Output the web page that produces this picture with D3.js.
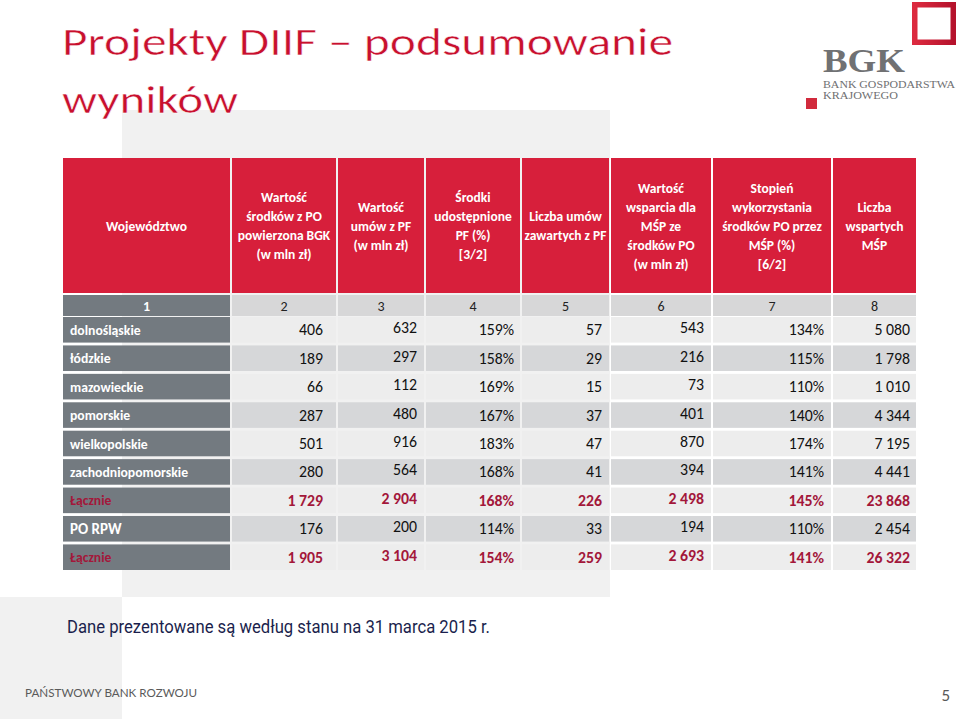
<!DOCTYPE html>
<html><head><meta charset="utf-8">
<script src="https://cdn.jsdelivr.net/npm/d3@7"></script>
<style>body{margin:0;background:#fff}svg{display:block}</style>
</head><body><svg id="c" width="959" height="719"></svg>
<script>
// ---- data ----
const regions = ["dolnośląskie","łódzkie","mazowieckie","pomorskie","wielkopolskie","zachodniopomorskie","Łącznie","PO RPW","Łącznie"];
const isTotal = [false,false,false,false,false,false,true,false,true];
const wartoscPO = [406,189,66,287,501,280,1729,176,1905];
const wartoscUmowPF = [632,297,112,480,916,564,2904,200,3104];
const srodkiUdostepnione = [159,158,169,167,183,168,168,114,154];
const liczbaUmow = [57,29,15,37,47,41,226,33,259];
const wartoscWsparcia = [543,216,73,401,870,394,2498,194,2693];
const stopienWykorzystania = [134,115,110,140,174,141,145,110,141];
const liczbaMSP = [5080,1798,1010,4344,7195,4441,23868,2454,26322];
const headers = [
  ["Województwo"],
  ["Wartość","środków z PO","powierzona BGK","(w mln zł)"],
  ["Wartość","umów z PF","(w mln zł)"],
  ["Środki","udostępnione","PF (%)","[3/2]"],
  ["Liczba umów","zawartych z PF"],
  ["Wartość","wsparcia dla","MŚP ze","środków PO","(w mln zł)"],
  ["Stopień","wykorzystania","środków PO przez","MŚP (%)","[6/2]"],
  ["Liczba","wspartych","MŚP"]
];
const colNumbers = ["1","2","3","4","5","6","7","8"];
const title = ["Projekty DIIF – podsumowanie","wyników"];
const note = "Dane prezentowane są według stanu na 31 marca 2015 r.";

// ---- layout / style ----
const RED = "#d71f3b", GREY = "#737a80", LIGHT = "#ededed", DARK = "#d6d7d9", TOTAL = "#a3173a";
const FONT = "Calibri, Carlito, Lato, sans-serif";
const svg = d3.select("#c");
const loc = d3.formatLocale({decimal:",", thousands:"\u00a0", grouping:[3], currency:["",""]});
const num = loc.format(",d");
const pct = d => d + "%";

// background blocks
svg.append("rect").attr("x",122).attr("y",110).attr("width",488).attr("height",487).attr("fill","#f1f1f1");
svg.append("rect").attr("x",0).attr("y",597).attr("width",122).attr("height",122).attr("fill","#f1f1f1");

// title
svg.selectAll("text.title").data(title).enter().append("text")
  .attr("class","title")
  .attr("x",62).attr("y",(d,i)=>55+i*58)
  .attr("font-family",FONT).attr("font-size",39).attr("font-weight",300).attr("fill","#c8102e")
  .attr("stroke","#fff").attr("stroke-width",0.45)
  .attr("textLength",(d,i)=>i===0?611:176).attr("lengthAdjust","spacingAndGlyphs")
  .text(d=>d);

// logo
const logo = svg.append("g");
const grad = svg.append("defs").append("linearGradient").attr("id","lg").attr("x1","0").attr("x2","1");
grad.append("stop").attr("offset","0").attr("stop-color","#dc2a3f");
grad.append("stop").attr("offset","1").attr("stop-color","#b5122c");
logo.append("rect").attr("x",914.75).attr("y",4.75).attr("width",38.5).attr("height",37.5)
  .attr("fill","none").attr("stroke","url(#lg)").attr("stroke-width",5.5);
logo.append("rect").attr("x",806).attr("y",98).attr("width",11).attr("height",11).attr("fill","#d12a3c");
logo.append("text").attr("x",823).attr("y",72).attr("font-family","Liberation Serif, serif").attr("font-weight","bold")
  .attr("font-size",34).attr("fill","#707173").attr("textLength",82).attr("lengthAdjust","spacingAndGlyphs").text("BGK");
logo.append("text").attr("x",823).attr("y",88).attr("font-family","Liberation Serif, serif")
  .attr("font-size",10.5).attr("fill","#6f7072").attr("textLength",132).attr("lengthAdjust","spacingAndGlyphs").text("BANK GOSPODARSTWA");
logo.append("text").attr("x",823).attr("y",98.5).attr("font-family","Liberation Serif, serif")
  .attr("font-size",10.5).attr("fill","#6f7072").attr("textLength",75).attr("lengthAdjust","spacingAndGlyphs").text("KRAJOWEGO");

// columns & rows
const edges = [63,232,338,426,522,611,713,833,918];
const x0 = d3.scaleOrdinal().domain(d3.range(9)).range(edges);
const colW = i => x0(i+1) - x0(i) - 2;
const y = d3.scaleBand().domain(d3.range(regions.length)).range([317,570]).paddingInner(0.1).paddingOuter(0);

const columns = [
  {values: wartoscPO, fmt: num, pad: 14, dy: 0},
  {values: wartoscUmowPF, fmt: num, pad: 8, dy: -2},
  {values: srodkiUdostepnione, fmt: pct, pad: 7, dy: 0},
  {values: liczbaUmow, fmt: num, pad: 8, dy: 0},
  {values: wartoscWsparcia, fmt: num, pad: 8, dy: -2},
  {values: stopienWykorzystania, fmt: pct, pad: 8, dy: 0},
  {values: liczbaMSP, fmt: num, pad: 7, dy: 0}
];

// header
const hTop = 158, hH = 135;
const hg = svg.selectAll("g.h").data(headers).enter().append("g").attr("class","h");
hg.append("rect").attr("x",(d,i)=>x0(i)).attr("y",hTop).attr("width",(d,i)=>colW(i)).attr("height",hH).attr("fill",RED);
hg.each(function(lines,i){
  const cx = x0(i) + colW(i)/2, lh = 19;
  const start = hTop + hH/2 - (lines.length-1)*lh/2 + 5;
  d3.select(this).selectAll("text").data(lines).enter().append("text")
    .attr("x",cx).attr("y",(d,k)=>start+k*lh).attr("text-anchor","middle")
    .attr("font-family",FONT).attr("font-weight","bold").attr("font-size",13.5).attr("fill","#fff")
    .text(d=>d);
});

// number row
const nTop = 295, nH = 21;
const ng = svg.selectAll("g.n").data(colNumbers).enter().append("g").attr("class","n");
ng.append("rect").attr("x",(d,i)=>x0(i)).attr("y",nTop).attr("width",(d,i)=>colW(i)).attr("height",nH)
  .attr("fill",(d,i)=>i===0?GREY:"#d7d7d8");
ng.append("text").attr("x",(d,i)=>x0(i)+colW(i)/2).attr("y",nTop+nH/2+5).attr("text-anchor","middle")
  .attr("font-family",FONT).attr("font-size",14).attr("fill",(d,i)=>i===0?"#fff":"#222")
  .attr("font-weight",(d,i)=>i===0?"bold":"normal").text(d=>d);

// data rows
const rows = svg.selectAll("g.r").data(regions).enter().append("g").attr("class","r");
rows.append("rect").attr("x",x0(0)).attr("y",(d,i)=>y(i)).attr("width",colW(0)).attr("height",y.bandwidth()).attr("fill",GREY);
rows.append("text").attr("x",x0(0)+7).attr("y",(d,i)=>y(i)+y.bandwidth()/2+5)
  .attr("font-family",FONT).attr("font-weight","bold")
  .attr("font-size",(d,i)=>d==="PO RPW"?15:13.7)
  .attr("fill",(d,i)=>isTotal[i]?TOTAL:"#fff").text(d=>d);

columns.forEach((col,c)=>{
  const ci = c+1;
  svg.append("g").selectAll("rect").data(col.values).enter().append("rect")
    .attr("x",x0(ci)).attr("y",(d,i)=>y(i)).attr("width",colW(ci)).attr("height",y.bandwidth())
    .attr("fill",(d,i)=>i%2===0?LIGHT:DARK);
  svg.append("g").selectAll("text").data(col.values).enter().append("text")
    .attr("x",x0(ci)+colW(ci)+1-col.pad).attr("y",(d,i)=>y(i)+y.bandwidth()/2+5.5+col.dy)
    .attr("text-anchor","end").attr("font-family",FONT).attr("font-size",15.8)
    .attr("font-weight",(d,i)=>isTotal[i]?"bold":"normal")
    .attr("fill",(d,i)=>isTotal[i]?TOTAL:"#111")
    .text(d=>col.fmt(d));
});

// footnote & footer
svg.append("text").attr("x",67).attr("y",633)
  .attr("font-family","'Liberation Sans Narrow','Arial Narrow','Roboto',sans-serif").attr("font-size",17.5)
  .attr("fill","#1b1f4d").attr("textLength",423).attr("lengthAdjust","spacingAndGlyphs").text(note);
svg.append("text").attr("x",25).attr("y",697)
  .attr("font-family","Lato, sans-serif").attr("font-size",11.5).attr("fill","#5a5a5a")
  .attr("textLength",172).attr("lengthAdjust","spacingAndGlyphs").text("PAŃSTWOWY BANK ROZWOJU");
svg.append("text").attr("x",950).attr("y",701).attr("text-anchor","end")
  .attr("font-family",FONT).attr("font-size",17).attr("fill","#595959").text("5");
</script></body></html>
